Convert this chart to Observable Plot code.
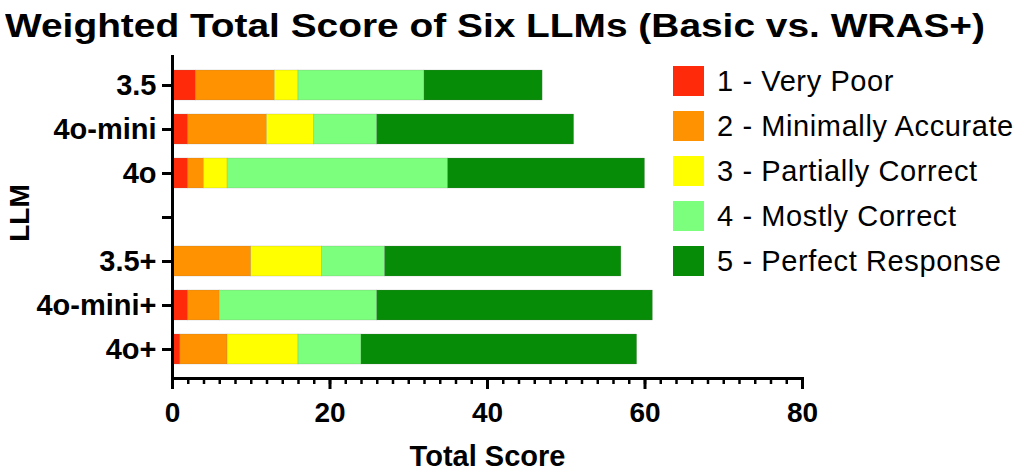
<!DOCTYPE html>
<html><head><meta charset="utf-8">
<script src="https://cdn.jsdelivr.net/npm/d3@7"></script>
<script src="https://cdn.jsdelivr.net/npm/@observablehq/plot@0.6"></script>
<style>
body{margin:0;background:#fff;font-family:"Liberation Sans",Arial,sans-serif;}
#wrap{position:relative;width:1024px;height:474px;overflow:hidden;background:#fff;}
#title{height:50px;font-size:33px;font-weight:bold;line-height:46px;padding-left:5px;padding-top:3px;box-sizing:border-box;white-space:nowrap;color:#000;}
#title span{display:inline-block;transform-origin:0 50%;}
#legend{position:absolute;left:673px;top:66px;}
.row{display:flex;align-items:center;height:30px;margin-bottom:15px;}
.sw{width:31px;height:30px;margin-right:13px;flex:none;}
.lab{font-size:29px;letter-spacing:0.6px;white-space:nowrap;color:#000;}
</style></head><body>
<div id="wrap"><div id="title"><span>Weighted Total Score of Six LLMs (Basic vs. WRAS+)</span></div><div id="chart"></div><div id="legend"></div></div>
<script>
const models = ["3.5","4o-mini","4o","3.5+","4o-mini+","4o+"];
const yDomain = ["3.5","4o-mini","4o"," ","3.5+","4o-mini+","4o+"];
const levels = ["1 - Very Poor","2 - Minimally Accurate","3 - Partially Correct","4 - Mostly Correct","5 - Perfect Response"];
const colors = ["#ff2a0a","#ff9200","#ffff00","#7cff7c","#068c06"];
const veryPoor   = [3, 2, 2, 0, 2, 1];
const minimally  = [10,10, 2,10, 4, 6];
const partially  = [3, 6, 3, 9, 0, 9];
const mostly     = [16, 8,28, 8,20, 8];
const perfect    = [15,25,25,30,35,35];
const xTicks = [0,20,40,60,80];

const series = [veryPoor, minimally, partially, mostly, perfect];
const rows = [];
models.forEach((m,i)=>series.forEach((s,j)=>rows.push({llm:m, level:levels[j], value:s[i]})));

const plot = Plot.plot({
  width:1024, height:424,
  marginLeft:172, marginRight:222, marginTop:5, marginBottom:96,
  style:{fontFamily:"Liberation Sans, Arial, sans-serif", color:"#000", background:"#fff", overflow:"visible"},
  x:{domain:[0,80], axis:null, label:null},
  y:{domain:yDomain, padding:0.32, axis:null, label:null},
  color:{domain:levels, range:colors},
  marks:[
    Plot.barX(rows, Plot.stackX({x:"value", y:"llm", fill:"level", order:levels, stroke:"#777", strokeOpacity:0.35, strokeWidth:0.6})),
    Plot.axisX({ticks:d3.range(0,81,2), tickSize:6, strokeWidth:2.5, tickFormat:()=>"", label:null}),
    Plot.axisX({ticks:xTicks, tickSize:11, strokeWidth:3, tickPadding:13, fontSize:28, fontWeight:"bold", label:null}),
    Plot.axisY({tickSize:10, tickPadding:6, strokeWidth:3, fontSize:29, fontWeight:"bold", label:null, style:{letterSpacing:"0.6px"}}),
    Plot.ruleX([0], {strokeWidth:3}),
    Plot.frame({anchor:"bottom", strokeWidth:3}),
    Plot.text(["Total Score"], {frameAnchor:"bottom", dy:87, fontSize:29, fontWeight:"bold", textAnchor:"middle"}),
    Plot.text(["LLM"], {frameAnchor:"left", dx:-152, dy:-4, rotate:-90, textAnchor:"middle", fontSize:28, fontWeight:"bold"})
  ]
});
document.getElementById("chart").appendChild(plot);

const legend = d3.select("#legend");
levels.forEach((l,i)=>{
  const r = legend.append("div").attr("class","row");
  r.append("div").attr("class","sw").style("background",colors[i]);
  r.append("div").attr("class","lab").text(l);
});

const ts = document.querySelector("#title span");
const w = ts.getBoundingClientRect().width;
ts.style.transform = `scaleX(${980 / w})`;
</script>
</body></html>
